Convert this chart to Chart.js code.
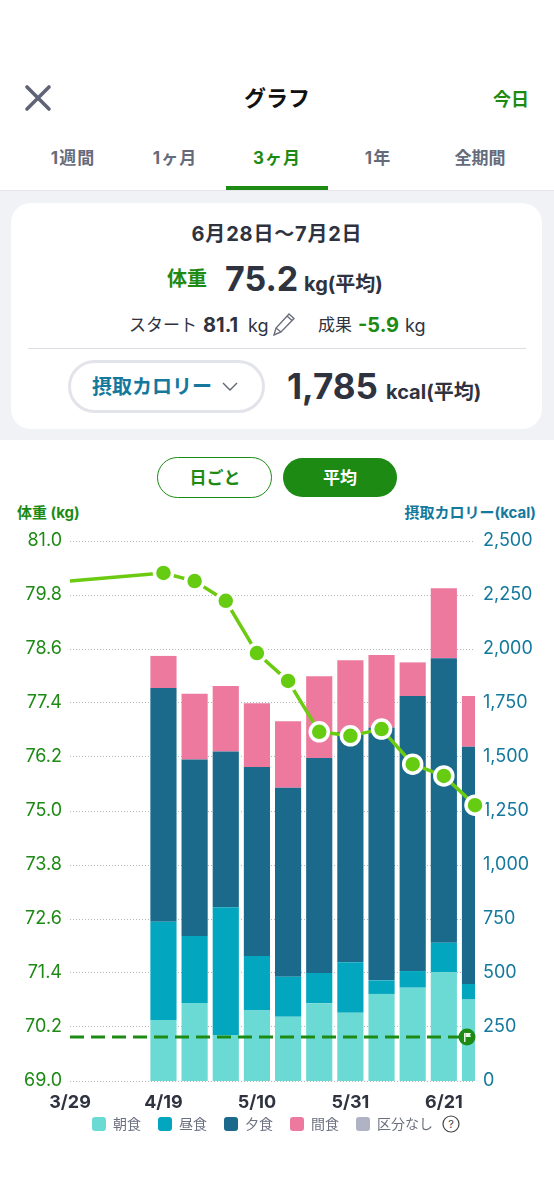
<!DOCTYPE html>
<html lang="ja"><head><meta charset="utf-8">
<script src="https://cdn.jsdelivr.net/npm/chart.js@4"></script>
<style>
html,body{margin:0;padding:0;background:#fff}
body{width:554px;height:1200px;position:relative;overflow:hidden;font-family:Inter,"Noto Sans CJK JP",sans-serif;color:#2f3340}
.t{position:absolute;white-space:nowrap;line-height:1;transform:translate(-50%,-50%)}
.l{transform:translate(0,-50%)}
.r{transform:translate(-100%,-50%)}
.b{font-weight:700}
.g{color:#1d8a14}
.tab{font-size:17px;font-weight:700;color:#666b7b}
.sp{letter-spacing:1px}
.blue{color:#14799c}
#band{position:absolute;left:0;top:190px;width:554px;height:250px;background:#f1f2f6;border-top:1px solid #e6e7ec;box-sizing:border-box}
#card{position:absolute;left:11px;top:203px;width:531px;height:226px;background:#fff;border-radius:20px}
#rule{position:absolute;left:28px;top:348px;width:498px;height:1px;background:#dcdde2}
#under{position:absolute;left:226px;top:186px;width:102px;height:4px;background:#1d8a14}
#pill{position:absolute;left:68px;top:360px;width:197px;height:53px;box-sizing:border-box;border:3px solid #e3e4ea;border-radius:27px;background:#fff}
#seg1{position:absolute;left:157px;top:457px;width:115px;height:41px;box-sizing:border-box;border:1.5px solid #1d8a14;border-radius:21px;background:#fff}
#seg2{position:absolute;left:283px;top:458px;width:114px;height:39px;border-radius:20px;background:#1d8a14}
canvas{position:absolute;left:0;top:520px}
svg{position:absolute}
</style></head><body>
<div id="band"></div><div id="card"></div><div id="rule"></div><div id="under"></div><div id="pill"></div><div id="seg1"></div><div id="seg2"></div>
<svg style="left:24px;top:84px" width="28" height="28" viewBox="0 0 28 28"><path d="M3 3L25 25M25 3L3 25" stroke="#5f6375" stroke-width="3.6" stroke-linecap="round"/></svg>
<div class="t b" style="left:277px;top:98px;font-size:22px;color:#111">グラフ</div>
<div class="t b g" style="left:511px;top:100px;font-size:18px">今日</div>
<div class="t tab sp" style="left:73px;top:158px">1週間</div>
<div class="t tab sp" style="left:175px;top:158px">1ヶ月</div>
<div class="t tab sp" style="left:277px;top:158px;color:#1d8a14">3ヶ月</div>
<div class="t tab sp" style="left:378px;top:158px">1年</div>
<div class="t tab" style="left:480px;top:158px">全期間</div>
<div class="t b" style="left:277px;top:234px;font-size:20px;letter-spacing:.8px">6月28日〜7月2日</div>
<div class="t b g" style="left:187px;top:279px;font-size:20px">体重</div>
<div class="t b" style="left:225px;top:279px;font-size:34px;transform:translate(0,-50%)">75.2</div>
<div class="t b" style="left:304px;top:284px;font-size:20px;transform:translate(0,-50%)">kg(平均)</div>
<div class="t" style="left:129px;top:325px;font-size:17px;transform:translate(0,-50%)">スタート</div>
<div class="t b" style="left:203px;top:325px;font-size:20px;transform:translate(0,-50%)">81.1</div>
<div class="t" style="left:248px;top:326px;font-size:18px;transform:translate(0,-50%)">kg</div>
<svg style="left:272px;top:311px" width="24" height="26" viewBox="0 0 24 26" fill="none" stroke="#6b6f7d" stroke-width="1.4"><path d="M2 24l2-7L17 3l5 4.500L9 21z"/><path d="M4 17l5 4M15 5l5 4.500"/></svg>
<div class="t" style="left:318px;top:325px;font-size:17px;transform:translate(0,-50%)">成果</div>
<div class="t b g" style="left:358px;top:325px;font-size:20px;transform:translate(0,-50%)">-5.9</div>
<div class="t" style="left:405px;top:326px;font-size:18px;transform:translate(0,-50%)">kg</div>
<div class="t b blue" style="left:92px;top:387px;font-size:20px;transform:translate(0,-50%)">摂取カロリー</div>
<svg style="left:221px;top:381px" width="18" height="12" viewBox="0 0 18 12" fill="none" stroke="#5f6375" stroke-width="1.4"><path d="M2 2l7 7 7-7"/></svg>
<div class="t b" style="left:287px;top:386px;font-size:35px;transform:translate(0,-50%)">1,785</div>
<div class="t b" style="left:386px;top:392px;font-size:20px;transform:translate(0,-50%)">kcal(平均)</div>
<div class="t b g" style="left:215px;top:478px;font-size:17px">日ごと</div>
<div class="t b" style="left:340px;top:478px;font-size:17px;color:#fff">平均</div>
<div class="t b g l" style="left:17px;top:512px;font-size:15px">体重 (kg)</div>
<div class="t b blue r" style="left:536px;top:512px;font-size:15px">摂取カロリー(kcal)</div>
<svg style="left:442px;top:1115px" width="18" height="18" viewBox="0 0 18 18"><circle cx="9" cy="9" r="8" fill="none" stroke="#444" stroke-width="1.2"/><text x="9" y="13" text-anchor="middle" font-size="11" font-family="Inter" fill="#444">?</text></svg>
<canvas id="c" width="554" height="634"></canvas>
<script>
const categories=['3/29','4/5','4/12','4/19','4/26','5/3','5/10','5/17','5/24','5/31','6/7','6/14','6/21','6/28'];
const shownLabels=['3/29','4/19','5/10','5/31','6/21'];
const weight=[80.11,null,null,80.29,80.11,79.67,78.51,77.89,76.76,76.67,76.82,76.04,75.78,75.13];
const target=[69.98,69.98,69.98,69.98,69.98,69.98,69.98,69.98,69.98,69.98,69.98,69.98,69.98,69.98];
const breakfast=[null,null,null,282,361,213,326,298,360,316,403,432,503,377];
const lunch=[null,null,null,455,310,591,253,185,140,234,63,77,137,72];
const dinner=[null,null,null,1082,818,721,875,875,995,1066,1171,1273,1317,1099];
const snack=[null,null,null,149,304,304,295,307,379,332,335,156,324,234];
const none=[null,null,null,null,null,null,null,null,null,null,null,null,null,null];
const GREEN='#1d8a14',BLUE='#14799c';
const flagPlugin={id:'flag',
 afterLayout(ch){ch.legend.left=75;ch.legend.top-=13;},
 afterDatasetsDraw(ch){
  const y=ch.scales.y.getPixelForValue(target[0]),x=ch.chartArea.right-8,c=ch.ctx;
  c.save();c.fillStyle=GREEN;c.beginPath();c.arc(x,y,8.5,0,Math.PI*2);c.fill();
  c.fillStyle='#e8f5e4';c.fillRect(x-3,y-4,1.5,9);c.beginPath();c.moveTo(x-1.5,y-4);c.lineTo(x+4,y-4);c.lineTo(x+3,y-2);c.lineTo(x+4,y);c.lineTo(x-1.5,y);c.fill();c.restore();
 }};
function bar(label,data,color){return{type:'bar',label,data,backgroundColor:color,borderWidth:0,yAxisID:'y2',stack:'m',order:3,categoryPercentage:1,barPercentage:0.84};}
new Chart(document.getElementById('c'),{
 data:{labels:categories,datasets:[
  bar('朝食',breakfast,'#6cdad4'),bar('昼食',lunch,'#02a7bf'),bar('夕食',dinner,'#1b6a8c'),bar('間食',snack,'#ed7a9e'),bar('区分なし',none,'#b0b3c4'),
  {type:'line',label:'目標',data:target,yAxisID:'y',borderColor:GREEN,borderWidth:3,borderDash:[14,7],pointRadius:0,order:2},
  {type:'line',label:'体重',data:weight,yAxisID:'y',spanGaps:true,borderColor:'#6ccb10',borderWidth:3.5,backgroundColor:'#66cc11',pointBackgroundColor:'#66cc11',pointBorderColor:'#fff',pointBorderWidth:3.5,pointRadius:c=>c.dataIndex===0?0:9,clip:false,order:1}
 ]},
 options:{responsive:false,animation:false,
  layout:{padding:{top:21,left:0,right:0,bottom:0}},
  plugins:{tooltip:{enabled:false},
   legend:{position:'bottom',align:'start',
    labels:{filter:i=>i.text!=='目標'&&i.text!=='体重',boxWidth:14,boxHeight:14,useBorderRadius:true,borderRadius:3,padding:17,color:'#6b7080',font:{size:14,family:'"Noto Sans CJK JP"'}}}},
  scales:{
   x:{type:'category',offset:false,stacked:true,
    grid:{display:false},border:{display:false},
    afterFit(s){s.height=32;},
    ticks:{autoSkip:false,maxRotation:0,padding:3,color:'#2f3340',font:{size:18,weight:'700',family:'Inter'},
     callback(v){const l=this.getLabelForValue(v);return shownLabels.includes(l)?l:'';}}},
   y:{position:'left',min:69,max:81,stacked:false,
    afterFit(s){s.width=70;},
    border:{display:false,dash:[1,2]},
    grid:{color:'#b5b5ba',lineWidth:1,drawTicks:false},
    ticks:{stepSize:1.2,padding:8,color:GREEN,font:{size:18,family:'Inter'},callback:v=>v.toFixed(1)}},
   y2:{position:'right',min:0,max:2500,stacked:true,
    afterFit(s){s.width=79;},
    border:{display:false},grid:{display:false,drawTicks:false},
    ticks:{stepSize:250,padding:8,color:BLUE,font:{size:18,family:'Inter'},callback:v=>v.toLocaleString('en-US')}}
  }},
 plugins:[flagPlugin]
});
</script>
</body></html>
